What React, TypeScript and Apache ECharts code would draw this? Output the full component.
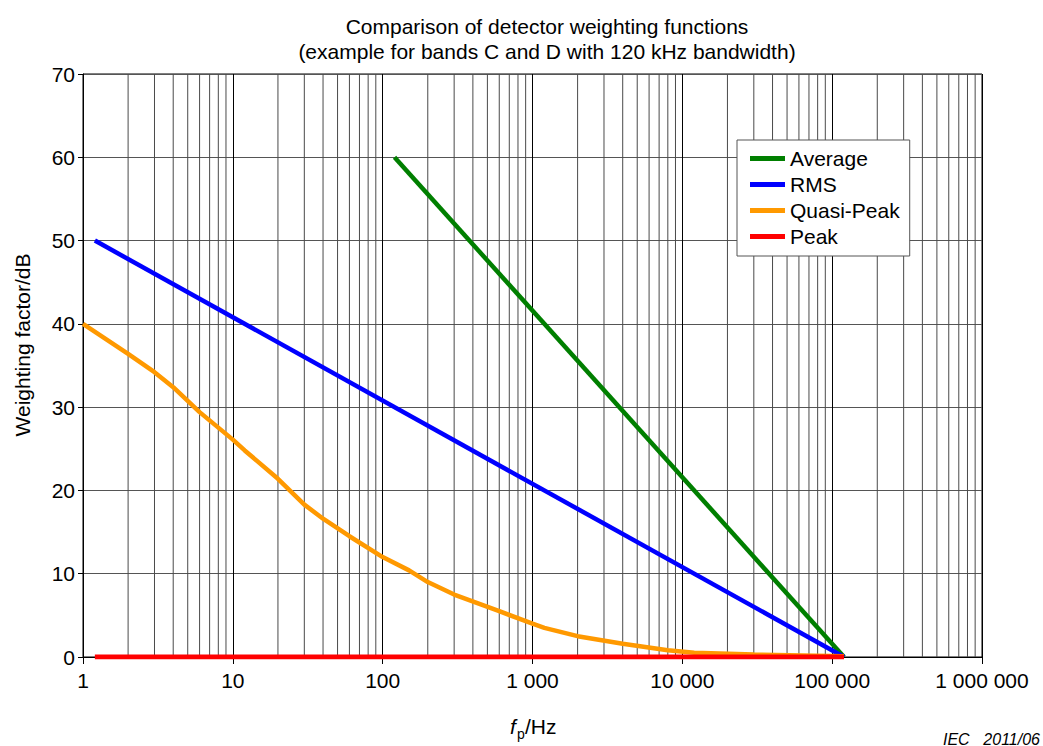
import React, { useEffect, useRef } from "react";
import * as echarts from "echarts";

const titleLines = [
  "Comparison of detector weighting functions",
  "(example for bands C and D with 120 kHz bandwidth)",
];
const seriesNames = ["Average", "RMS", "Quasi-Peak", "Peak"];
const seriesColors = ["#007f00", "#0000ff", "#ff9900", "#ff0000"];

const averageData = [
  [120, 60],
  [120000, 0],
];
const rmsData = [
  [1.2, 50],
  [120000, 0],
];
const quasiPeakData = [
  [1, 40],
  [2, 36.4],
  [3, 34.2],
  [4, 32.4],
  [6, 29.4],
  [10, 26.1],
  [12, 24.8],
  [20, 21.4],
  [30, 18.3],
  [40, 16.6],
  [60, 14.5],
  [100, 12],
  [150, 10.4],
  [200, 9],
  [300, 7.5],
  [600, 5.5],
  [1000, 4],
  [1200, 3.5],
  [2000, 2.5],
  [4000, 1.6],
  [8000, 0.8],
  [12000, 0.5],
  [30000, 0.3],
  [120000, 0.1],
];
const peakData = [
  [1.2, 0],
  [120000, 0],
];

const decades = [1, 10, 100, 1000, 10000, 100000];
const minorMultipliers = [2, 3, 4, 5, 6, 7, 8, 9];
const minorGridFreqs: number[] = [];
decades.forEach((d) => minorMultipliers.forEach((m) => minorGridFreqs.push(d * m)));

const FONT = "'Liberation Sans', Arial, Helvetica, sans-serif";

function fmtFreq(v: number): string {
  return String(Math.round(v)).replace(/\B(?=(\d{3})+(?!\d))/g, " ");
}

export default function App() {
  const ref = useRef<HTMLDivElement>(null);
  useEffect(() => {
    document.body.style.margin = "0";
    if (!ref.current) return;
    const chart = echarts.init(ref.current, undefined, { renderer: "svg" });
    const dataSets = [averageData, rmsData, quasiPeakData, peakData];
    chart.setOption({
      animation: false,
      backgroundColor: "#ffffff",
      textStyle: { fontFamily: FONT },
      title: {
        text: titleLines.join("\n"),
        left: 542,
        top: 9,
        textAlign: "center",
        textStyle: {
          fontFamily: FONT,
          fontSize: 21,
          fontWeight: "normal",
          color: "#000",
          lineHeight: 25,
        },
      },
      grid: {
        left: 83,
        right: 61,
        top: 74,
        bottom: 89,
        show: true,
        borderColor: "#000",
        borderWidth: 1,
        backgroundColor: "transparent",
      },
      legend: {
        orient: "vertical",
        left: 737,
        top: 140,
        data: seriesNames,
        icon: "rect",
        itemWidth: 35,
        itemHeight: 5,
        itemGap: 5,
        padding: [8, 10, 9, 13],
        borderColor: "#555",
        borderWidth: 1,
        backgroundColor: "#fff",
        textStyle: { fontFamily: FONT, fontSize: 21, color: "#000" },
      },
      xAxis: {
        type: "log",
        logBase: 10,
        min: 1,
        max: 1000000,
        axisLine: { show: true, lineStyle: { color: "#000", width: 1 } },
        axisTick: { show: true, length: 7, lineStyle: { color: "#000" } },
        splitLine: { show: true, lineStyle: { color: "#000", width: 1 } },
        axisLabel: {
          margin: 13,
          fontFamily: FONT,
          fontSize: 21,
          color: "#000",
          formatter: (v: number) => fmtFreq(v),
        },
      },
      yAxis: {
        type: "value",
        min: 0,
        max: 70,
        interval: 10,
        axisLine: { show: true, lineStyle: { color: "#000", width: 1 } },
        axisTick: { show: true, length: 5, lineStyle: { color: "#000" } },
        splitLine: { show: true, lineStyle: { color: "#555", width: 1 } },
        axisLabel: { margin: 8, fontFamily: FONT, fontSize: 21, color: "#000" },
      },
      series: [
        {
          type: "custom",
          name: "minorGrid",
          silent: true,
          z: 1,
          data: minorGridFreqs.map((f) => [f]),
          renderItem: (params: any, api: any) => {
            const f = api.value(0);
            const p1 = api.coord([f, 0]);
            const p2 = api.coord([f, 70]);
            return {
              type: "line",
              shape: { x1: p1[0], y1: p1[1], x2: p2[0], y2: p2[1] },
              style: { stroke: "#4a4a4a", lineWidth: 1 },
            };
          },
        },
        ...seriesNames.map((name, i) => ({
          type: "line",
          name,
          data: dataSets[i],
          showSymbol: false,
          symbol: "none",
          z: 3 + i,
          color: seriesColors[i],
          lineStyle: { color: seriesColors[i], width: i === 3 ? 5 : 4.5 },
        })),
      ],
      graphic: [
        {
          type: "text",
          x: 22,
          y: 345,
          rotation: Math.PI / 2,
          style: {
            text: "Weighting factor/dB",
            fontFamily: FONT,
            fontSize: 21,
            fill: "#000",
            align: "center",
            verticalAlign: "middle",
          },
        },
        {
          type: "text",
          x: 510,
          y: 726,
          style: {
            text: "f",
            fontFamily: FONT,
            fontSize: 21,
            fontStyle: "italic",
            fill: "#000",
            align: "left",
            verticalAlign: "middle",
          },
        },
        {
          type: "text",
          x: 517,
          y: 734,
          style: {
            text: "p",
            fontFamily: FONT,
            fontSize: 14,
            fill: "#000",
            align: "left",
            verticalAlign: "middle",
          },
        },
        {
          type: "text",
          x: 525,
          y: 726,
          style: {
            text: "/Hz",
            fontFamily: FONT,
            fontSize: 21,
            fill: "#000",
            align: "left",
            verticalAlign: "middle",
          },
        },
        {
          type: "text",
          x: 943,
          y: 739,
          style: {
            text: "IEC",
            fontFamily: FONT,
            fontSize: 16,
            fontStyle: "italic",
            fill: "#000",
            align: "left",
            verticalAlign: "middle",
          },
        },
        {
          type: "text",
          x: 1040,
          y: 739,
          style: {
            text: "2011/06",
            fontFamily: FONT,
            fontSize: 16,
            fontStyle: "italic",
            fill: "#000",
            align: "right",
            verticalAlign: "middle",
          },
        },
      ],
    });
    return () => chart.dispose();
  }, []);
  return <div ref={ref} style={{ width: 1043, height: 746 }} />;
}
